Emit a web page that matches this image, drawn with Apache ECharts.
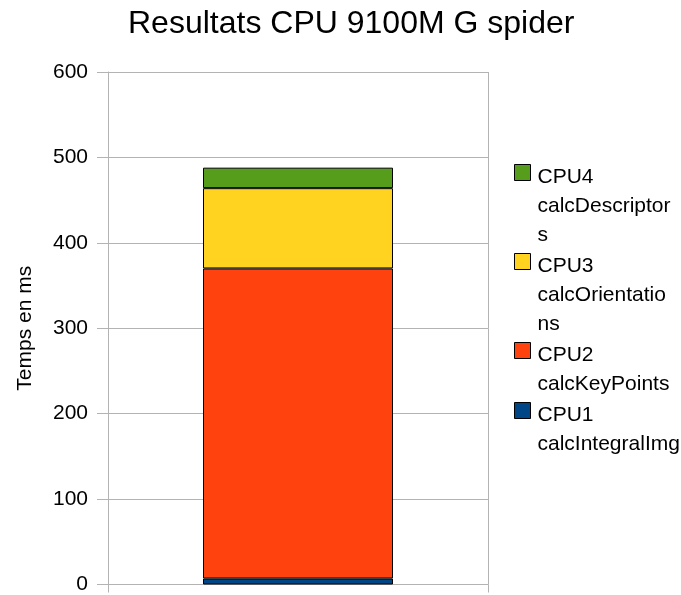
<!DOCTYPE html>
<html>
<head>
<meta charset="utf-8">
<script src="https://cdn.jsdelivr.net/npm/echarts@6/dist/echarts.min.js"></script>
<style>
  html, body { margin: 0; padding: 0; background: #fff; }
  #chart { width: 681px; height: 595px; }
</style>
</head>
<body>
<div id="chart"></div>
<script>
// Stacked timing breakdown of the four CPU stages (ms)
const categories = ['spider'];
const seriesNames = ['CPU1 calcIntegralImg', 'CPU2 calcKeyPoints', 'CPU3 calcOrientations', 'CPU4 calcDescriptors'];
const cpu1 = [7];
const cpu2 = [363];
const cpu3 = [94];
const cpu4 = [24];
const yTicks = [0, 100, 200, 300, 400, 500, 600];

// Wrapped legend text, as laid out in the legend column
const legendText = {
  'CPU4 calcDescriptors': 'CPU4\ncalcDescriptor\ns',
  'CPU3 calcOrientations': 'CPU3\ncalcOrientatio\nns',
  'CPU2 calcKeyPoints': 'CPU2\ncalcKeyPoints',
  'CPU1 calcIntegralImg': 'CPU1\ncalcIntegralImg'
};
const colors = ['#004586', '#ff420e', '#ffd320', '#579d1c'];
const values = [cpu1, cpu2, cpu3, cpu4];

const FONT = '"Liberation Sans", Arial, sans-serif';
const LINE_H = 29;
const MAX_LINES = 3;
const KEY = 16;
const GRID = '#b3b3b3';

// Legend key: a square beside the first text line. The path's extent spans the
// whole text block so the square stays next to the first line.
function keyIcon(lines) {
  const h = lines * LINE_H;
  return 'path://M0,2h' + KEY + 'v' + KEY + 'h-' + KEY + 'z' +
         'M0,0L0,0M' + KEY + ',' + h + 'L' + KEY + ',' + h;
}

const chart = echarts.init(document.getElementById('chart'), null, { renderer: 'canvas' });

const legendOrder = seriesNames.slice().reverse();

chart.setOption({
  animation: false,
  backgroundColor: '#ffffff',
  title: {
    text: 'Resultats CPU 9100M G spider',
    left: 123,
    top: 3,
    textStyle: { fontFamily: FONT, fontSize: 32, fontWeight: 'normal', color: '#000' }
  },
  legend: {
    orient: 'vertical',
    left: 514,
    top: 162,
    padding: 0,
    itemWidth: KEY,
    itemHeight: MAX_LINES * LINE_H,
    itemGap: 1,
    symbolKeepAspect: true,
    itemStyle: { borderColor: '#000', borderWidth: 1 },
    formatter: name => legendText[name],
    textStyle: { fontFamily: FONT, fontSize: 21, color: '#000', lineHeight: LINE_H, padding: [0, 0, 0, 2] },
    data: legendOrder.map(n => ({
      name: n,
      icon: keyIcon(legendText[n].split('\n').length)
    }))
  },
  grid: { left: 108, right: 193, top: 72, bottom: 8, containLabel: false },
  xAxis: {
    type: 'category',
    data: categories,
    axisLine: { lineStyle: { color: GRID } },
    axisTick: { show: true, length: 8, lineStyle: { color: GRID } },
    axisLabel: { show: false },
    splitLine: { show: true, lineStyle: { color: GRID } }
  },
  yAxis: {
    type: 'value',
    min: yTicks[0],
    max: yTicks[yTicks.length - 1],
    interval: 100,
    name: 'Temps en ms',
    nameLocation: 'middle',
    nameGap: 72,
    nameTextStyle: { fontFamily: FONT, fontSize: 21, color: '#000' },
    axisLine: { show: true, lineStyle: { color: GRID } },
    axisTick: { show: true, length: 11, lineStyle: { color: GRID } },
    axisLabel: { fontFamily: FONT, fontSize: 21, color: '#000', margin: 20 },
    splitLine: { show: true, lineStyle: { color: GRID } }
  },
  series: seriesNames.map((n, i) => ({
    name: n,
    type: 'bar',
    stack: 'total',
    barWidth: '50%',
    data: values[i],
    itemStyle: { color: colors[i], borderColor: '#000', borderWidth: 1 }
  }))
});
</script>
</body>
</html>
